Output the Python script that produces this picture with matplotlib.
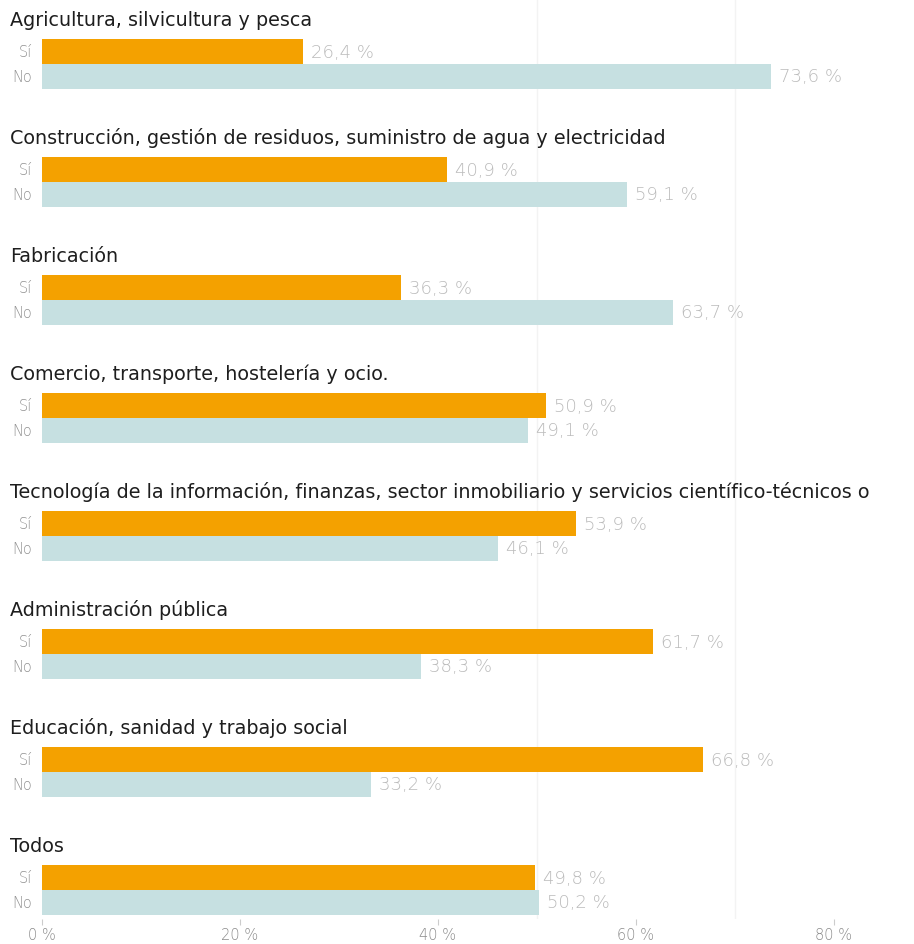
import numpy as np
import matplotlib
matplotlib.use("Agg")
import matplotlib.pyplot as plt

# sectors and answers (percent)
sectors = [
    "Agricultura, silvicultura y pesca",
    "Construcción, gestión de residuos, suministro de agua y electricidad",
    "Fabricación",
    "Comercio, transporte, hostelería y ocio.",
    "Tecnología de la información, finanzas, sector inmobiliario y servicios científico-técnicos o",
    "Administración pública",
    "Educación, sanidad y trabajo social",
    "Todos",
]
si_vals = [26.4, 40.9, 36.3, 50.9, 53.9, 61.7, 66.8, 49.8]
no_vals = [73.6, 59.1, 63.7, 49.1, 46.1, 38.3, 33.2, 50.2]
xticks = [0, 20, 40, 60, 80]
xtick_labels = ["0 %", "20 %", "40 %", "60 %", "80 %"]

W, H = 914, 945
fig = plt.figure(figsize=(W / 100, H / 100), dpi=100)
# axes spans pixel x 42..914, y 0..920
ax = fig.add_axes([42 / W, (H - 920) / H, (W - 42) / W, 920 / H])

step = 118.0  # px per group
bar_h = 25 / step
pos = np.arange(len(sectors))
ax.set_xlim(0, (W - 42) / 9.9)
ax.set_ylim((920 - 65) / step, -65 / step)

for gx in [50, 70]:
    ax.axvline(gx, color="#f3f3f3", lw=1, zorder=0)

ax.barh(pos - bar_h / 2, si_vals, height=bar_h, color="#f4a100", zorder=2)
ax.barh(pos + bar_h / 2, no_vals, height=bar_h, color="#c6e0e1", zorder=2)

for i in pos:
    ax.text(1.0 - 42 / 9.9, i - 0.33, sectors[i], fontsize=13.8, color="#1e1e1e",
            va="baseline", ha="left", clip_on=False)
    ax.text(-1.0, i - bar_h / 2, "Sí", fontsize=10.5, color="#909090",
            ha="right", va="center", fontweight="light")
    ax.text(-1.0, i + bar_h / 2, "No", fontsize=10.5, color="#909090",
            ha="right", va="center", fontweight="light")
    ax.text(si_vals[i] + 0.8, i - bar_h / 2, f"{si_vals[i]:.1f} %".replace(".", ","),
            fontsize=13, color="#bbbbbb", va="center", ha="left", fontweight="light")
    ax.text(no_vals[i] + 0.8, i + bar_h / 2, f"{no_vals[i]:.1f} %".replace(".", ","),
            fontsize=13, color="#bbbbbb", va="center", ha="left", fontweight="light")

ax.set_xticks(xticks)
ax.set_xticklabels(xtick_labels, fontsize=10.5, color="#8a8a8a", fontweight="light")
ax.tick_params(axis="x", length=4, width=0.8, color="#cccccc", pad=2)
ax.set_yticks([])
for s in ax.spines.values():
    s.set_visible(False)

fig.savefig("out.png", dpi=100)
